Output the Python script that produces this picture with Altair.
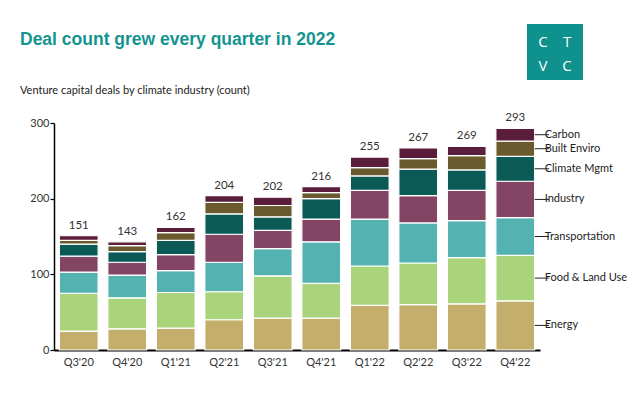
import altair as alt
import pandas as pd

quarters = ["Q3'20", "Q4'20", "Q1'21", "Q2'21", "Q3'21", "Q4'21", "Q1'22", "Q2'22", "Q3'22", "Q4'22"]
industries = ["Energy", "Food & Land Use", "Transportation", "Industry", "Climate Mgmt", "Built Enviro", "Carbon"]

energy    = [25, 28, 29, 40, 42, 42, 59, 60, 61, 65]
food      = [50, 41, 47, 37, 56, 46, 52, 55, 61, 60]
transport = [28, 30, 29, 39, 36, 55, 62, 53, 49, 50]
industry  = [21, 17, 21, 37, 24, 30, 38, 36, 40, 48]
climate   = [16, 14, 19, 27, 18, 27, 19, 35, 27, 33]
built     = [5, 8, 10, 15, 15, 8, 11, 14, 19, 20]
carbon    = [6, 5, 7, 9, 11, 8, 14, 14, 12, 17]
totals    = [151, 143, 162, 204, 202, 216, 255, 267, 269, 293]

title_text = "Deal count grew every quarter in 2022"
subtitle_text = "Venture capital deals by climate industry (count)"

colors = ["#c3af6b", "#a9d47b", "#54b3b1", "#834563", "#0b5a56", "#6b5a2e", "#5a1e3c"]

series = [energy, food, transport, industry, climate, built, carbon]
rows = []
for i, (name, vals) in enumerate(zip(industries, series)):
    for q, v in zip(quarters, vals):
        rows.append({"quarter": q, "industry": name, "order": i, "count": v})
df = pd.DataFrame(rows)
tot = pd.DataFrame({"quarter": quarters, "total": totals})

W, H = 486, 227
FONT = "Lato"

xenc = alt.X(
    "quarter:N", sort=quarters,
    scale=alt.Scale(paddingInner=0.2, paddingOuter=0.11),
    axis=alt.Axis(title=None, labelAngle=0, domainColor="black", domainWidth=2,
                  ticks=False, labelFont=FONT, labelFontSize=11, labelColor="#333333",
                  labelPadding=6),
)
yenc = alt.Y(
    "count:Q", stack="zero",
    scale=alt.Scale(domain=[0, 300], nice=False),
    axis=alt.Axis(title=None, values=[0, 100, 200, 300], grid=False,
                  domainColor="black", domainWidth=1.5, tickColor="black",
                  tickSize=4, tickWidth=1.2, labelFont=FONT, labelFontSize=11,
                  labelColor="#333333", labelPadding=1),
)

bars = alt.Chart(df).mark_bar(stroke="white", strokeWidth=1.2).encode(
    x=xenc,
    y=yenc,
    color=alt.Color("industry:N", scale=alt.Scale(domain=industries, range=colors), legend=None),
    order=alt.Order("order:Q", sort="ascending"),
)

total_text = alt.Chart(tot).mark_text(
    dy=-10, font=FONT, fontSize=11.5, color="#333333"
).encode(
    x=alt.X("quarter:N", sort=quarters),
    y=alt.Y("total:Q"),
    text=alt.Text("total:Q"),
)

last = alt.Chart(df).transform_filter(
    alt.datum.quarter == quarters[-1]
).transform_stack(
    stack="count", as_=["y0", "y1"], groupby=["quarter"], sort=[alt.SortField("order")]
).transform_calculate(mid="(datum.y0 + datum.y1) / 2")

leg_rules = last.mark_rule(color="#222222", strokeWidth=1).encode(
    x=alt.X("quarter:N", sort=quarters, bandPosition=1),
    x2=alt.value(W + 9),
    y=alt.Y("mid:Q"),
)
leg_text = last.mark_text(
    align="left", dx=10, font=FONT, fontSize=11, color="#222222"
).encode(
    x=alt.X("quarter:N", sort=quarters, bandPosition=1),
    y=alt.Y("mid:Q"),
    text="industry:N",
)

one = pd.DataFrame({"a": [0]})
title_mark = alt.Chart(one).mark_text(
    align="left", baseline="alphabetic", font="Liberation Sans", fontSize=17.5,
    fontWeight="bold", color="#139490", text=title_text
).encode(x=alt.value(-34), y=alt.value(-78))
subtitle_mark = alt.Chart(one).mark_text(
    align="left", baseline="alphabetic", font=FONT, fontSize=11,
    color="#222222", text=subtitle_text
).encode(x=alt.value(-34), y=alt.value(-29))

logo_box = alt.Chart(one).mark_rect(color="#0f918d").encode(
    x=alt.value(473), x2=alt.value(529), y=alt.value(-99), y2=alt.value(-43)
)
logo_letters = pd.DataFrame({
    "ch": ["C", "T", "V", "C"],
    "px": [489, 513, 489, 513],
    "py": [-81, -81, -57, -57],
})
logo_text = alt.Chart(logo_letters).mark_text(
    font="Open Sans", fontSize=15, color="white", baseline="middle"
).encode(
    x=alt.X("px:Q", scale=None), y=alt.Y("py:Q", scale=None), text="ch:N"
)

chart = alt.layer(
    bars, total_text, leg_rules, leg_text, title_mark, subtitle_mark, logo_box, logo_text
).properties(
    width=W, height=H,
    autosize=alt.AutoSizeParams(type="none"),
    padding={"left": 46, "top": 115, "right": 94, "bottom": 37},
).configure_view(stroke=None)

chart.save("out.html", embed_options={"renderer": "svg", "actions": False})
